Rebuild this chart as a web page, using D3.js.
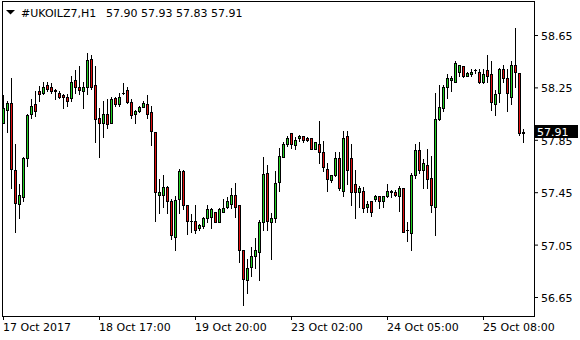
<!DOCTYPE html>
<html>
<head>
<meta charset="utf-8">
<script src="https://cdn.jsdelivr.net/npm/d3@7"></script>
<style>
body { margin: 0; background: #fff; }
text { font-family: "DejaVu Sans", sans-serif; font-size: 11px; }
</style>
</head>
<body>
<div class="chart"></div>
<script>
// H1 bars, one per hour
var opens = [57.98,58.08,58.13,57.62,57.36,57.41,57.71,58.05,58.12,58.22,58.21,58.27,58.25,58.23,58.21,58.19,58.18,58.17,58.31,58.25,
  58.22,58.25,58.47,58.27,58.02,57.98,58.05,57.98,58.17,58.12,58.21,58.23,58.14,58.05,58.07,58.10,58.12,58.06,57.91,57.43,
  57.43,57.49,57.38,57.11,57.40,57.61,57.35,57.23,57.23,57.18,57.19,57.25,57.26,57.30,57.22,57.30,57.34,57.36,57.43,57.35,
  57.01,56.78,56.88,56.96,56.99,57.22,57.60,57.22,57.25,57.53,57.72,57.82,57.90,57.81,57.86,57.88,57.86,57.86,57.78,57.82,
  57.76,57.63,57.54,57.58,57.71,57.46,57.88,57.71,57.51,57.45,57.46,57.34,57.38,57.40,57.42,57.38,57.42,57.46,57.45,57.42,
  57.48,57.16,57.14,57.58,57.77,57.62,57.66,57.56,57.34,58.01,58.09,58.25,58.31,58.29,58.37,58.41,58.34,58.35,58.38,58.37,
  58.29,58.38,58.35,58.12,58.21,58.39,58.32,58.18,58.42,58.36,57.90];
var highs = [58.19,58.15,58.32,57.82,57.51,57.72,58.05,58.16,58.22,58.26,58.29,58.29,58.28,58.24,58.22,58.20,58.20,58.34,58.38,58.41,
  58.29,58.51,58.50,58.41,58.09,58.15,58.16,58.18,58.18,58.21,58.28,58.25,58.16,58.08,58.11,58.15,58.19,58.11,57.91,57.55,
  57.58,57.50,57.40,57.42,57.63,57.62,57.35,57.28,57.35,57.21,57.26,57.35,57.33,57.30,57.33,57.40,57.41,57.48,57.52,57.35,
  57.01,56.94,57.03,57.10,57.24,57.72,57.66,57.29,57.61,57.79,57.83,57.88,57.90,57.87,57.89,57.88,57.87,57.86,57.83,57.99,
  57.84,57.67,57.58,57.76,57.76,57.92,57.92,57.82,57.62,57.50,57.49,57.38,57.38,57.43,57.42,57.42,57.51,57.47,57.47,57.50,
  57.48,57.22,57.60,57.82,57.83,57.70,57.78,57.73,58.21,58.27,58.27,58.35,58.34,58.45,58.42,58.41,58.37,58.39,58.39,58.39,
  58.39,58.50,58.45,58.23,58.40,58.42,58.39,58.45,58.70,58.36,57.93];
var lows = [57.98,57.91,57.48,57.15,57.25,57.38,57.65,58.02,58.03,58.15,58.20,58.22,58.21,58.16,58.17,58.09,58.11,58.15,58.21,58.20,
  58.09,58.20,58.24,57.83,57.72,57.87,57.94,57.98,58.11,58.11,58.20,58.13,58.02,57.98,58.06,58.10,58.02,57.81,57.23,57.29,
  57.34,57.29,57.09,57.01,57.29,57.32,57.13,57.15,57.14,57.16,57.18,57.22,57.18,57.22,57.22,57.30,57.33,57.33,57.26,56.92,
  56.59,56.68,56.81,56.87,56.78,57.16,57.16,56.94,57.22,57.46,57.72,57.80,57.79,57.78,57.84,57.83,57.84,57.78,57.78,57.67,
  57.61,57.46,57.53,57.57,57.47,57.42,57.51,57.35,57.25,57.34,57.30,57.30,57.27,57.38,57.33,57.34,57.41,57.41,57.42,57.31,
  57.15,57.08,57.01,57.56,57.60,57.48,57.48,57.30,57.12,58.00,58.07,58.17,58.22,58.29,58.34,58.33,58.34,58.34,58.36,58.28,
  58.28,58.29,58.08,58.04,58.14,58.29,58.07,58.12,58.25,57.89,57.83];
var closes = [58.09,58.13,57.63,57.37,57.43,57.71,58.04,58.11,58.07,58.20,58.25,58.24,58.22,58.22,58.18,58.18,58.15,58.29,58.25,58.23,
  58.25,58.46,58.25,58.01,57.98,58.05,57.97,58.16,58.12,58.18,58.21,58.14,58.04,58.07,58.10,58.13,58.05,57.92,57.45,57.45,
  57.49,57.38,57.12,57.39,57.61,57.35,57.23,57.23,57.16,57.20,57.25,57.32,57.32,57.22,57.32,57.33,57.38,57.43,57.34,57.01,
  56.79,56.87,56.96,57.01,57.22,57.59,57.23,57.25,57.52,57.73,57.82,57.86,57.82,57.85,57.88,57.85,57.85,57.78,57.83,57.76,
  57.64,57.55,57.58,57.71,57.48,57.86,57.62,57.45,57.45,57.48,57.33,57.36,57.30,57.42,57.38,57.42,57.46,57.45,57.43,57.48,
  57.15,57.16,57.58,57.77,57.62,57.67,57.55,57.35,58.01,58.10,58.25,58.32,58.32,58.44,58.42,58.34,58.36,58.37,58.38,58.29,
  58.35,58.34,58.14,58.20,58.39,58.32,58.21,58.42,58.37,57.90,57.91];

var tickBars = [0, 24, 48, 72, 96, 120];
var tickLabels = ["17 Oct 2017", "18 Oct 17:00", "19 Oct 20:00", "23 Oct 02:00", "24 Oct 05:00", "25 Oct 08:00"];
var priceTicks = [56.65, 57.05, 57.45, 57.85, 58.25, 58.65];
var symbol = "#UKOILZ7,H1";
var lastQuote = ["57.90", "57.93", "57.83", "57.91"];
var lastPrice = 57.91;

var svgWidth = 580;
var svgHeight = 340;

var svg = d3.select(".chart")
  .append("svg")
  .attr("width", svgWidth)
  .attr("height", svgHeight)
  .style("display", "block");

// bar index -> pixel column, price -> pixel row
var x = d3.scaleLinear().domain([0, opens.length - 1]).range([3, 3 + 4 * (opens.length - 1)]);
var y = d3.scaleLinear().domain([56.65, 58.65]).range([297, 35]);

var bars = opens.map(function (o, i) {
  return { i: i, o: o, h: highs[i], l: lows[i], c: closes[i] };
});

// frame
svg.append("rect")
  .attr("x", 2.5).attr("y", 1.5)
  .attr("width", 532).attr("height", 315)
  .attr("fill", "none")
  .attr("stroke", "#000");

// x axis
var xAxis = svg.append("g")
  .attr("transform", "translate(0,316)")
  .call(d3.axisBottom(x)
    .tickValues(tickBars)
    .tickSize(4)
    .tickPadding(3)
    .tickFormat(function (d) { return tickLabels[tickBars.indexOf(d)]; }));
xAxis.select(".domain").remove();
xAxis.selectAll("text").attr("text-anchor", "start").attr("x", -0.5)
  .attr("fill", "#000").style("font-size", "11px").style("font-family", "DejaVu Sans");

// y axis
var yAxis = svg.append("g")
  .attr("transform", "translate(535,0)")
  .call(d3.axisRight(y)
    .tickValues(priceTicks)
    .tickSize(3)
    .tickPadding(3)
    .tickFormat(d3.format(".2f")));
yAxis.select(".domain").remove();
yAxis.selectAll("text").attr("dy", "0.4em")
  .attr("fill", "#000").style("font-size", "11px").style("font-family", "DejaVu Sans");

// wicks
svg.append("g").selectAll("line")
  .data(bars)
  .enter()
  .append("line")
  .attr("x1", d => x(d.i) + 0.5)
  .attr("x2", d => x(d.i) + 0.5)
  .attr("y1", d => Math.round(y(d.h)))
  .attr("y2", d => Math.round(y(d.l)) + 1)
  .attr("stroke", "#000")
  .attr("stroke-width", 1);

// bodies
function bodyTop(d) { return Math.round(y(Math.max(d.o, d.c))); }
function bodyBot(d) { return Math.round(y(Math.min(d.o, d.c))); }

svg.append("g").selectAll("rect")
  .data(bars.filter(d => bodyBot(d) > bodyTop(d)))
  .enter()
  .append("rect")
  .attr("x", d => x(d.i) - 0.5)
  .attr("y", d => bodyTop(d) + 0.5)
  .attr("width", 2)
  .attr("height", d => bodyBot(d) - bodyTop(d))
  .attr("fill", d => d.c > d.o ? "#22d022" : "#e01010")
  .attr("stroke", "#000")
  .attr("stroke-width", 1);

// doji bars
svg.append("g").selectAll("line")
  .data(bars.filter(d => bodyBot(d) <= bodyTop(d)))
  .enter()
  .append("line")
  .attr("x1", d => x(d.i) - 1)
  .attr("x2", d => x(d.i) + 2)
  .attr("y1", d => bodyTop(d) + 0.5)
  .attr("y2", d => bodyTop(d) + 0.5)
  .attr("stroke", "#000");

// last price box
var yLast = Math.round(y(lastPrice));
svg.append("rect")
  .attr("x", 535).attr("y", yLast - 7)
  .attr("width", 43).attr("height", 13)
  .attr("fill", "#000");
svg.append("text")
  .attr("x", 537).attr("y", yLast + 4)
  .attr("fill", "#fff")
  .text(d3.format(".2f")(lastPrice));

// header
svg.append("path")
  .attr("d", "M6,10 L15,10 L10.5,14.5 Z")
  .attr("fill", "#000");
svg.append("text")
  .attr("x", 21).attr("y", 17)
  .attr("fill", "#000")
  .text(symbol);
svg.append("text")
  .attr("x", 106).attr("y", 17)
  .attr("fill", "#000")
  .text(lastQuote.join(" "));
</script>
</body>
</html>
